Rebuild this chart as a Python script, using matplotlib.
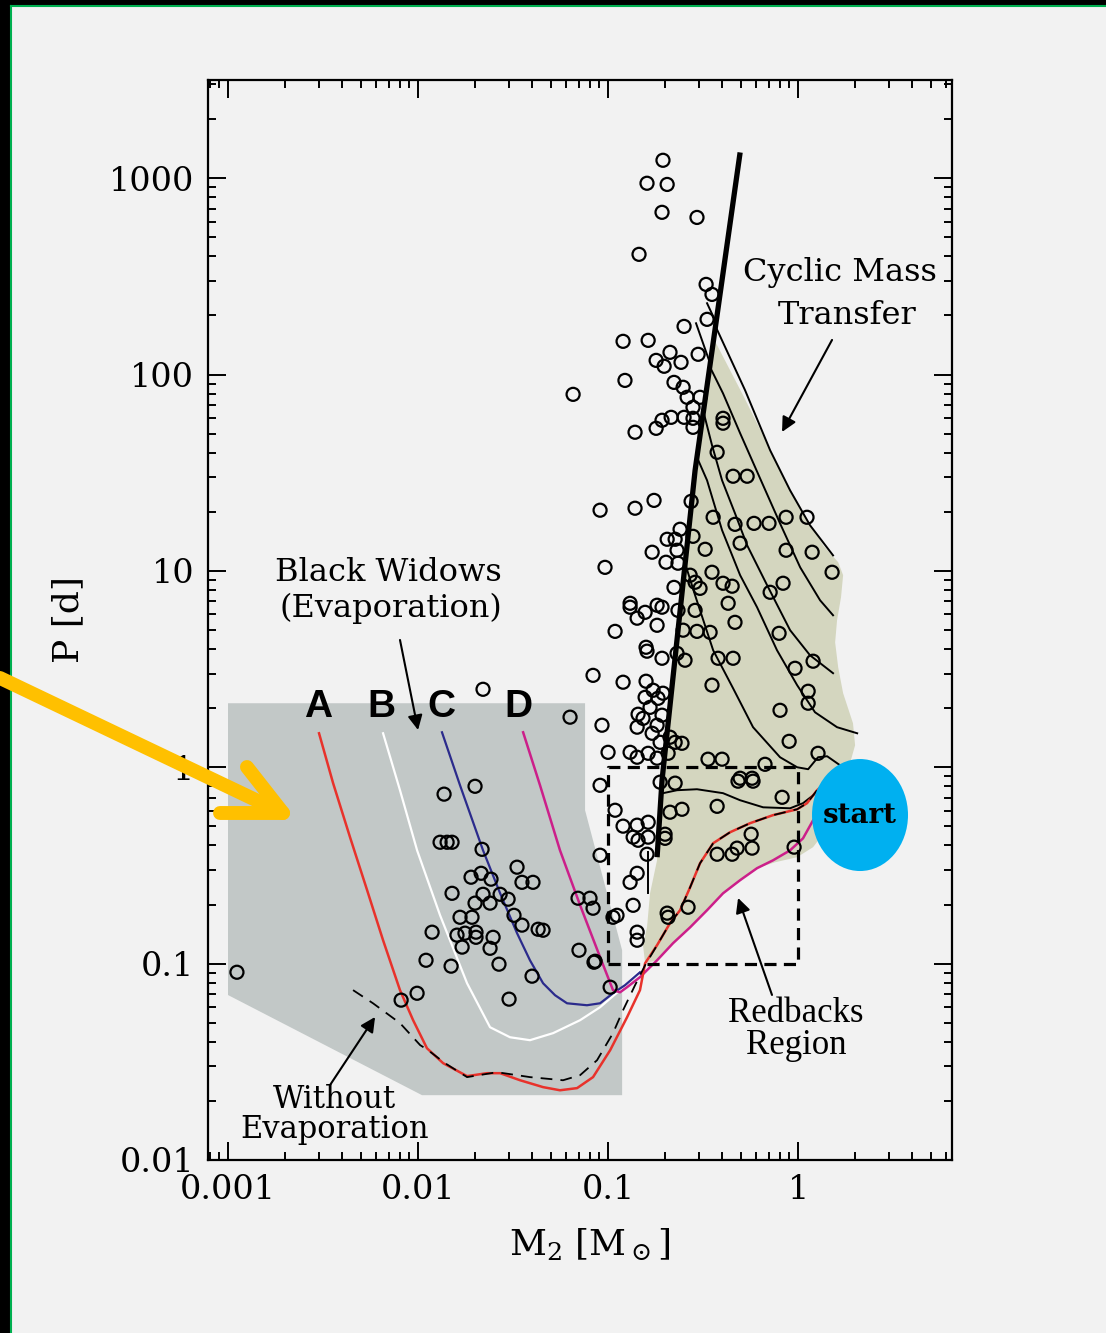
import numpy as np
import matplotlib.pyplot as plt
from matplotlib.patches import Polygon, Ellipse, Rectangle
from matplotlib.lines import Line2D

plt.rcParams['font.family'] = 'DejaVu Serif'
plt.rcParams['mathtext.fontset'] = 'dejavuserif'

obs_logm = [
    -0.711, -0.795, -0.689, -0.716, -0.532, -0.837, -0.484, -0.453, -0.479, -0.600,
    -0.921, -0.789, -0.674, -0.747, -0.705, -0.616, -0.526, -0.911, -1.184, -0.653,
    -0.605, -0.584, -0.516, -0.553, -0.395, -0.395, -0.668, -0.716, -0.747, -0.858,
    -0.600, -0.553, -0.553, -0.426,
    -1.042, -0.858, -0.758, -0.563, -1.016, -0.689, -0.647, -0.621, -0.553, -0.768,
    -0.695, -0.637, -0.632, -0.489, -0.653, -0.568, -0.542, -0.516, -0.884, -0.884,
    -0.805, -0.847, -0.742, -0.716, -0.632, -0.542, -0.963, -0.742, -0.605, -0.532,
    -0.800, -0.795, -0.716, -0.637, -0.595, -1.079, -0.921, -0.800, -0.763, -0.805,
    -0.737, -0.711, -0.779, -0.716, -0.842, -0.816, -0.847, -0.742, -0.768, -0.674,
    -0.647, -0.611, -0.726, -1.200, -1.032, -1.000, -0.884, -0.847, -0.789, -0.742,
    -0.684,
    -0.342, -0.268, -0.447, -0.332, -0.232, -0.153, -0.063, 0.047, -0.305, -0.063,
    0.074, 0.179, -0.453, -0.395, -0.347, -0.368, -0.147, -0.079, -0.332, -0.463,
    -0.100, -0.421, -0.342, 0.079, -0.016, -0.453, 0.053, 0.053, -0.095, -0.047,
    0.105, -0.474, -0.400, -0.174, -0.305, -0.242,
    -1.042, -0.726, -0.647, -0.316, -0.237, -0.084, -0.963, -0.674, -0.611, -0.426,
    -0.921, -0.847, -0.789, -0.868, -0.842, -0.789, -0.700, -0.700, -1.042, -0.795,
    -0.426, -0.347, -0.321, -0.247, -0.242, -0.021, -0.847, -0.884, -0.868, -0.953,
    -0.847, -0.847, -0.689, -0.684, -0.579, -1.068, -0.989,
    -1.658, -1.863, -1.700, -1.884, -1.847, -1.821, -1.663, -1.479, -1.721, -1.668,
    -1.616, -1.453, -1.395, -1.821, -1.658, -1.568, -1.526, -1.700, -1.621, -1.495,
    -1.453, -1.779, -1.716, -1.926, -1.795, -1.753, -1.695, -1.695, -1.768, -1.368,
    -1.342, -1.605, -1.621, -1.153, -1.074, -1.958, -1.826, -1.574, -1.400, -2.005,
    -2.089, -1.521, -2.953, -1.158, -1.095, -1.079, -0.974,
]
obs_logp = [
    3.091, 2.974, 2.968, 2.826, 2.800, 2.612, 2.459, 2.408, 2.281, 2.245,
    2.169, 2.174, 2.113, 2.072, 2.042, 2.062, 2.103, 1.970, 1.899, 1.960,
    1.935, 1.884, 1.884, 1.833, 1.777, 1.752, 1.782, 1.767, 1.726, 1.706,
    1.782, 1.777, 1.731, 1.604,
    1.309, 1.319, 1.359, 1.354, 1.018, 1.161, 1.161, 1.212, 1.176, 1.095,
    1.044, 1.105, 1.039, 1.110, 0.916, 0.978, 0.942, 0.911, 0.835, 0.815,
    0.789, 0.759, 0.825, 0.815, 0.799, 0.799, 0.692, 0.723, 0.698, 0.692,
    0.611, 0.591, 0.555, 0.580, 0.545, 0.468, 0.433, 0.438, 0.392, 0.356,
    0.351, 0.377, 0.305, 0.265, 0.270, 0.249, 0.204, 0.214, 0.173, 0.153,
    0.127, 0.122, 0.127, 0.255, 0.214, 0.076, 0.076, 0.051, 0.071, 0.046,
    0.071,
    1.482, 1.482, 1.273, 1.237, 1.242, 1.242, 1.273, 1.273, 1.141, 1.105,
    1.095, 0.993, 0.993, 0.937, 0.922, 0.835, 0.891, 0.937, 0.738, 0.687,
    0.682, 0.555, 0.555, 0.540, 0.504, 0.418, 0.387, 0.326, 0.290, 0.132,
    0.071, 0.041, 0.041, 0.015, -0.056, -0.056,
    -0.092, -0.076, -0.081, -0.071, -0.071, -0.153, -0.219, -0.229, -0.214, -0.199,
    -0.300, -0.295, -0.280, -0.356, -0.372, -0.356, -0.341, -0.362, -0.448, -0.443,
    -0.443, -0.443, -0.412, -0.341, -0.412, -0.407, -0.540, -0.586, -0.703, -0.754,
    -0.840, -0.881, -0.743, -0.764, -0.713, -0.988, -1.120,
    0.397, -0.137, -0.097, -0.382, -0.382, -0.382, -0.418, -0.509, -0.560, -0.540,
    -0.570, -0.586, -0.586, -0.642, -0.647, -0.647, -0.672, -0.692, -0.692, -0.754,
    -0.804, -0.764, -0.764, -0.840, -0.855, -0.845, -0.840, -0.866, -0.916, -0.825,
    -0.830, -0.866, -0.922, -0.932, -0.993, -0.983, -1.013, -1.003, -1.064, -1.151,
    -1.186, -1.181, -1.044, -0.667, -0.667, -0.718, -0.764,
]

# black widow region (evaporation), log10 coordinates
bw_logm = [-3.0, -1.121, -1.121, -0.926, -0.926, -1.979, -3.0]
bw_logp = [0.326, 0.326, -0.219, -0.932, -1.670, -1.670, -1.160]

# cyclic mass transfer region
cmt_logm = [-0.742, -0.716, -0.542, -0.442, -0.426, -0.284, -0.153, -0.047, 0.053,
            0.132, 0.211, 0.237, 0.226, 0.205, 0.195, 0.211, 0.237, 0.289, 0.300,
            0.263, 0.211, 0.147, 0.079, -0.005, -0.121, -0.216, -0.305, -0.395,
            -0.479, -0.568, -0.658, -0.742, -0.805, -0.816, -0.795, -0.779, -0.742]
cmt_logp = [-0.458, -0.066, 1.512, 2.174, 2.149, 1.884, 1.629, 1.426, 1.258,
            1.130, 1.044, 0.978, 0.866, 0.748, 0.636, 0.509, 0.377, 0.224, 0.112,
            -0.015, -0.168, -0.321, -0.407, -0.458, -0.484, -0.514, -0.575, -0.642,
            -0.728, -0.815, -0.896, -0.983, -0.998, -0.906, -0.815, -0.642, -0.473]

# bifurcation line (thick)
bif_logm = [-0.305, -0.542, -0.716, -0.742]
bif_logp = [3.131, 1.512, -0.066, -0.458]

# evolutionary tracks in the cyclic mass transfer region
tracks = [
    ([-0.437, -0.279, -0.147, -0.042, 0.063, 0.184],
     [2.251, 1.920, 1.614, 1.410, 1.232, 1.079]),
    ([-0.463, -0.395, -0.305, -0.200, -0.095, 0.011, 0.116, 0.184],
     [2.037, 1.904, 1.701, 1.471, 1.242, 1.018, 0.850, 0.774]),
    ([-0.500, -0.453, -0.400, -0.332, -0.268, -0.163, -0.042, 0.063, 0.184],
     [1.818, 1.640, 1.461, 1.293, 1.130, 0.927, 0.698, 0.570, 0.479]),
    ([-0.532, -0.479, -0.400, -0.305, -0.216, -0.111, -0.005, 0.089, 0.205, 0.311],
     [1.578, 1.461, 1.207, 0.978, 0.815, 0.596, 0.418, 0.280, 0.204, 0.173]),
    ([-0.595, -0.542, -0.447, -0.342, -0.237, -0.095, -0.005, 0.053, 0.105, 0.153, 0.221],
     [1.039, 0.876, 0.596, 0.402, 0.204, 0.051, 0.000, -0.010, 0.051, 0.056, 0.010]),
    ([-0.711, -0.637, -0.532, -0.395, -0.305, -0.184, -0.042, 0.026, 0.079, 0.116, 0.195],
     [-0.132, -0.117, -0.112, -0.132, -0.168, -0.204, -0.209, -0.183, -0.143, -0.107, -0.041]),
    ([-0.789, -0.789], [-0.433, -0.642]),
    ([-0.479, -0.442], [2.363, 2.286]),
    ([-0.537, -0.463], [2.261, 2.057]),
]

# tracks A-D
a_logm = [-2.521, -2.447, -2.358, -2.268, -2.184, -2.095, -2.026, -1.953, -1.868, -1.742,
          -1.637, -1.568, -1.463, -1.342, -1.253, -1.163, -1.079, -0.989, -0.900, -0.832,
          -0.805, -0.742, -0.674, -0.621, -0.568, -0.516, -0.447, -0.358, -0.253, -0.132,
          -0.005, 0.047, 0.100, 0.168]
a_logp = [0.173, -0.081, -0.356, -0.626, -0.881, -1.135, -1.288, -1.431, -1.507, -1.573,
          -1.558, -1.558, -1.594, -1.629, -1.645, -1.634, -1.578, -1.441, -1.273, -1.135,
          -0.998, -0.906, -0.794, -0.728, -0.611, -0.489, -0.387, -0.331, -0.285, -0.244,
          -0.214, -0.183, -0.117, -0.056]
noev_logm = [-2.342, -2.237, -2.095, -1.989, -1.947, -1.858, -1.742, -1.584, -1.411, -1.237,
             -1.147, -1.058, -0.974, -0.921, -0.858, -0.805, -0.742, -0.674, -0.621, -0.568,
             -0.516, -0.447, -0.358, -0.253, -0.132, -0.005, 0.047, 0.100, 0.168]
noev_logp = [-1.135, -1.202, -1.303, -1.415, -1.441, -1.507, -1.578, -1.553, -1.578, -1.594,
             -1.568, -1.492, -1.354, -1.237, -1.110, -1.008, -0.906, -0.794, -0.728, -0.611,
             -0.489, -0.387, -0.331, -0.285, -0.244, -0.214, -0.183, -0.117, -0.056]
b_logm = [-2.184, -2.095, -2.005, -1.884, -1.742, -1.621, -1.516, -1.411, -1.289, -1.147,
          -1.042, -0.937, -0.832]
b_logp = [0.173, -0.117, -0.423, -0.754, -1.100, -1.324, -1.375, -1.390, -1.354, -1.288,
          -1.222, -1.135, -1.034]
c_logm = [-1.874, -1.779, -1.658, -1.568, -1.479, -1.411, -1.342, -1.279, -1.216, -1.111,
          -1.042, -0.974, -0.911, -0.832]
c_logp = [0.178, -0.092, -0.423, -0.642, -0.845, -0.983, -1.100, -1.161, -1.202, -1.212,
          -1.202, -1.151, -1.110, -1.044]
d_logm = [-1.447, -1.358, -1.253, -1.147, -1.042, -0.974, -0.937, -0.900, -0.832, -0.779,
          -0.742, -0.658, -0.568, -0.479, -0.395, -0.305, -0.216, -0.132, -0.042, 0.026,
          0.079, 0.116, 0.168]
d_logp = [0.178, -0.092, -0.423, -0.703, -0.967, -1.135, -1.146, -1.120, -1.069, -1.018,
          -0.983, -0.896, -0.815, -0.728, -0.642, -0.575, -0.514, -0.474, -0.423, -0.362,
          -0.270, -0.219, -0.143]

# redbacks box
rb_m = [0.1, 1.0]
rb_p = [0.1, 1.0]

x_ticks = [0.001, 0.01, 0.1, 1]
x_labels = ['0.001', '0.01', '0.1', '1']
y_ticks = [0.01, 0.1, 1, 10, 100, 1000]
y_labels = ['0.01', '0.1', '1', '10', '100', '1000']


def lin(v):
    return 10 ** np.asarray(v)


fig = plt.figure(figsize=(11.06, 13.33), dpi=100, facecolor='#f2f2f2')
ax = fig.add_axes([0.1881, 0.1298, 0.6727, 0.8102])
ax.set_facecolor('#f2f2f2')
ax.set_xscale('log')
ax.set_yscale('log')
ax.set_xlim(7.85e-4, 6.46)
ax.set_ylim(0.01, 3162)

ax.add_patch(Polygon(np.column_stack([lin(bw_logm), lin(bw_logp)]), closed=True,
                     facecolor='#c2c8c7', edgecolor='none', zorder=1))
ax.add_patch(Polygon(np.column_stack([lin(cmt_logm), lin(cmt_logp)]), closed=True,
                     facecolor='#d4d6bf', edgecolor='none', zorder=1))

for tm, tp in tracks:
    ax.plot(lin(tm), lin(tp), color='black', lw=1.4, zorder=3)
ax.plot(lin(bif_logm), lin(bif_logp), color='black', lw=3.8, zorder=3,
        solid_capstyle='butt')

ax.plot(lin(b_logm), lin(b_logp), color='white', lw=1.6, zorder=3)
ax.plot(lin(c_logm), lin(c_logp), color='#2b2b8c', lw=1.6, zorder=3)
ax.plot(lin(d_logm), lin(d_logp), color='#cc1f8a', lw=1.8, zorder=3)
ax.plot(lin(a_logm), lin(a_logp), color='#e8322b', lw=1.8, zorder=3)
ax.plot(lin(noev_logm), lin(noev_logp), color='black', lw=1.3, zorder=3.5,
        dashes=(6.5, 4.5))

ax.plot([rb_m[0], rb_m[1], rb_m[1], rb_m[0], rb_m[0]],
        [rb_p[0], rb_p[0], rb_p[1], rb_p[1], rb_p[0]],
        color='black', lw=2.3, dashes=(3.8, 2.3), zorder=4)

ax.scatter(lin(obs_logm), lin(obs_logp), s=88, facecolors='none',
           edgecolors='black', linewidths=1.6, zorder=5)

ax.xaxis.set_major_locator(plt.FixedLocator(x_ticks))
ax.yaxis.set_major_locator(plt.FixedLocator(y_ticks))
ax.set_xticklabels(x_labels)
ax.set_yticklabels(y_labels)
ax.tick_params(which='both', direction='in', top=True, right=True, width=1.4,
               labelsize=24, pad=10)
ax.tick_params(which='major', length=13)
ax.tick_params(which='minor', length=6)
for sp in ax.spines.values():
    sp.set_linewidth(1.6)

ax.text(-0.1882, 0.5, 'P [d]', transform=ax.transAxes, rotation=90,
        ha='center', va='center', fontsize=26)
ax.text(0.5134, -0.0787, r'$\mathrm{M}_2$ [$\mathrm{M}_\odot$]', transform=ax.transAxes,
        ha='center', va='center', fontsize=26)

note = dict(transform=ax.transAxes, ha='center', va='center', fontsize=23, zorder=6)
ax.text(0.8495, 0.8213, 'Cyclic Mass', **note)
ax.text(0.8590, 0.7815, 'Transfer', **note)
ax.text(0.2419, 0.5444, 'Black Widows', **note)
ax.text(0.2460, 0.5111, '(Evaporation)', **note)
ax.text(0.1700, 0.0420, 'Without\nEvaporation', linespacing=0.95,
        multialignment='center', transform=ax.transAxes, ha='center', va='center',
        fontsize=22, zorder=6)
ax.text(0.7905, 0.1205, 'Redbacks\nRegion', linespacing=0.95,
        multialignment='center', transform=ax.transAxes, ha='center', va='center',
        fontsize=25, family='Liberation Serif', zorder=6)

arrow = dict(arrowstyle='-|>', color='black', lw=1.5, mutation_scale=22,
             shrinkA=0, shrinkB=0)
for tip, tail in [((0.7715, 0.6741), (0.8387, 0.7593)),
                  ((0.2823, 0.3981), (0.2580, 0.4815)),
                  ((0.2245, 0.1324), (0.1640, 0.0694)),
                  ((0.7124, 0.2426), (0.7580, 0.1528))]:
    ax.annotate('', xy=tip, xytext=tail, xycoords='axes fraction',
                textcoords='axes fraction', arrowprops=arrow, zorder=6)

for lab, xa in zip(['A', 'B', 'C', 'D'], [0.1478, 0.2325, 0.3132, 0.4167]):
    ax.text(xa, 0.4194, lab, transform=ax.transAxes, ha='center', va='center',
            fontsize=28, fontweight='bold', family='Liberation Sans', zorder=6)

# "start" marker
ax.add_patch(Ellipse((0.8763, 0.3194), 0.129, 0.1037, transform=ax.transAxes,
                     facecolor='#00b0f0', edgecolor='none', clip_on=False, zorder=7))
ax.text(0.8763, 0.3194, 'start', transform=ax.transAxes, ha='center', va='center',
        fontsize=20, fontweight='bold', zorder=8)

# slide frame
fig.add_artist(Rectangle((0, 1 - 5 / 1333), 1, 5 / 1333, transform=fig.transFigure,
                         facecolor='black', edgecolor='none', zorder=10))
fig.add_artist(Rectangle((0, 0), 10 / 1106, 1, transform=fig.transFigure,
                         facecolor='black', edgecolor='none', zorder=10))
fig.add_artist(Line2D([11 / 1106, 11 / 1106], [0, 1 - 6 / 1333], color='#00b050',
                      lw=1.5, transform=fig.transFigure, zorder=11))
fig.add_artist(Line2D([11 / 1106, 1], [1 - 6 / 1333, 1 - 6 / 1333], color='#00b050',
                      lw=1.5, transform=fig.transFigure, zorder=11))

# yellow pointer arrow
fig.add_artist(Line2D([0, 0.2559], [0.4914, 0.3901], color='#ffc000', lw=10,
                      solid_capstyle='round', transform=fig.transFigure, zorder=12))
fig.add_artist(Line2D([0.2233, 0.2559, 0.1989], [0.4246, 0.3901, 0.3901],
                      color='#ffc000', lw=10, solid_capstyle='round',
                      solid_joinstyle='round', transform=fig.transFigure, zorder=12))

fig.savefig('out.png', dpi=100, facecolor=fig.get_facecolor())
